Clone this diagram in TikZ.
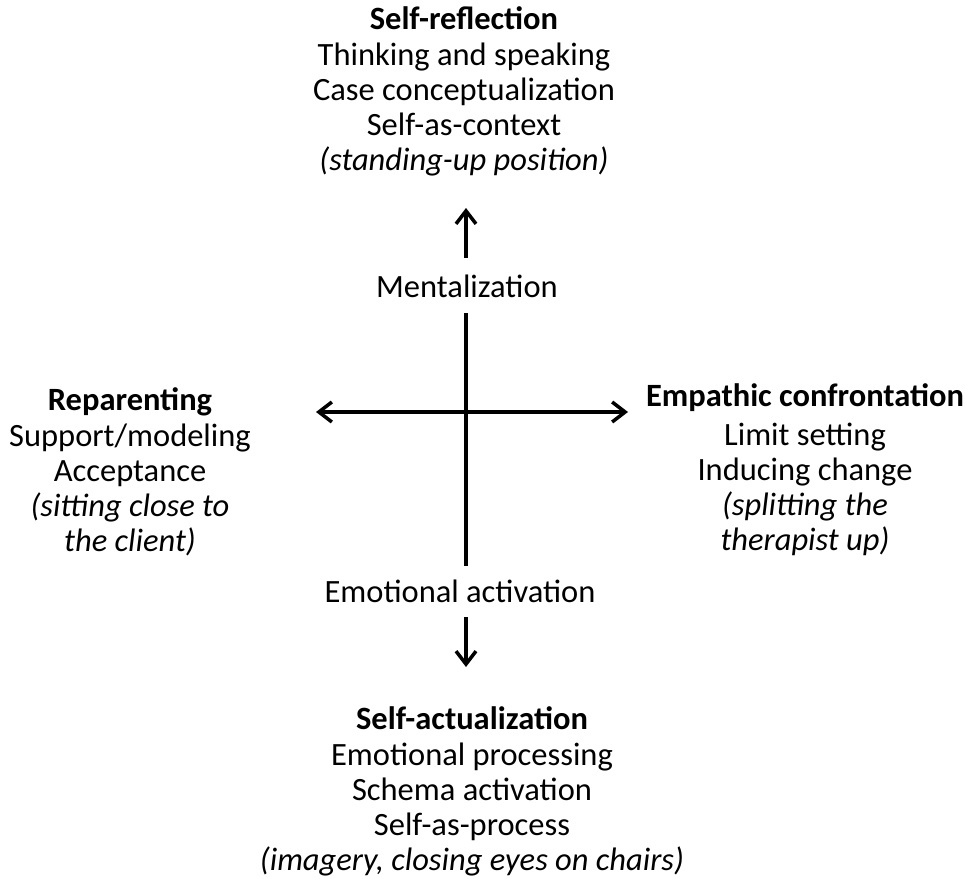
\documentclass[tikz,border=0pt]{standalone}
\usepackage{fontspec}
\setmainfont{Carlito}
\usetikzlibrary{arrows.meta}
\begin{document}
\begin{tikzpicture}[x=1pt,y=-1pt,
  txt/.style={align=center,inner sep=0pt,font=\fontsize{32.5}{35}\selectfont},
  lbl/.style={txt,text height=24pt,text depth=8pt},
  axis/.style={line width=3.5pt},
  barb/.tip={Straight Barb[length=13pt,width=20pt,line width=3.5pt]},
  arr/.style={axis,-barb}]
\useasboundingbox (0,0) rectangle (965,878);
% quadrant texts (anchored at the baseline of their last line)
\node[txt,anchor=base] (top) at (464,170) {\textbf{Self-reflection}\\[1pt]Thinking and speaking\\Case conceptualization\\Self-as-context\\\textit{(standing-up position)}};
\node[txt,anchor=base] (left) at (130,551) {\textbf{Reparenting}\\[1pt]Support/modeling\\Acceptance\\\textit{(sitting close to}\\\textit{the client)}};
\node[txt,anchor=base] (right) at (805,550) {\textbf{Empathic confrontation}\\[4pt]Limit setting\\Inducing change\\\textit{(splitting the}\\\textit{therapist up)}};
\node[txt,anchor=base] (bottom) at (472,870) {\textbf{Self-actualization}\\[1pt]Emotional processing\\Schema activation\\Self-as-process\\\textit{(imagery, closing eyes on chairs)}};
% axis labels
\node[lbl,anchor=base] (ment) at (467,297) {Mentalization};
\node[lbl,anchor=base] (emo) at (460,602) {Emotional activation};
% arrow tips and horizontal axis ends
\coordinate (toptip) at (466,208);
\coordinate (bottip) at (466,667);
\coordinate (hl) at (316,412);
\coordinate (hr) at (628,412);
% axes
\draw[arr,shorten <=15pt] (ment.north -| toptip) -- (toptip);
\draw[axis,shorten <=8pt,shorten >=12pt] (ment.south -| toptip) -- (emo.north -| toptip);
\draw[arr,shorten <=7pt] (emo.south -| bottip) -- (bottip);
\draw[axis,barb-barb] (hl) -- (hr);
\end{tikzpicture}
\end{document}
